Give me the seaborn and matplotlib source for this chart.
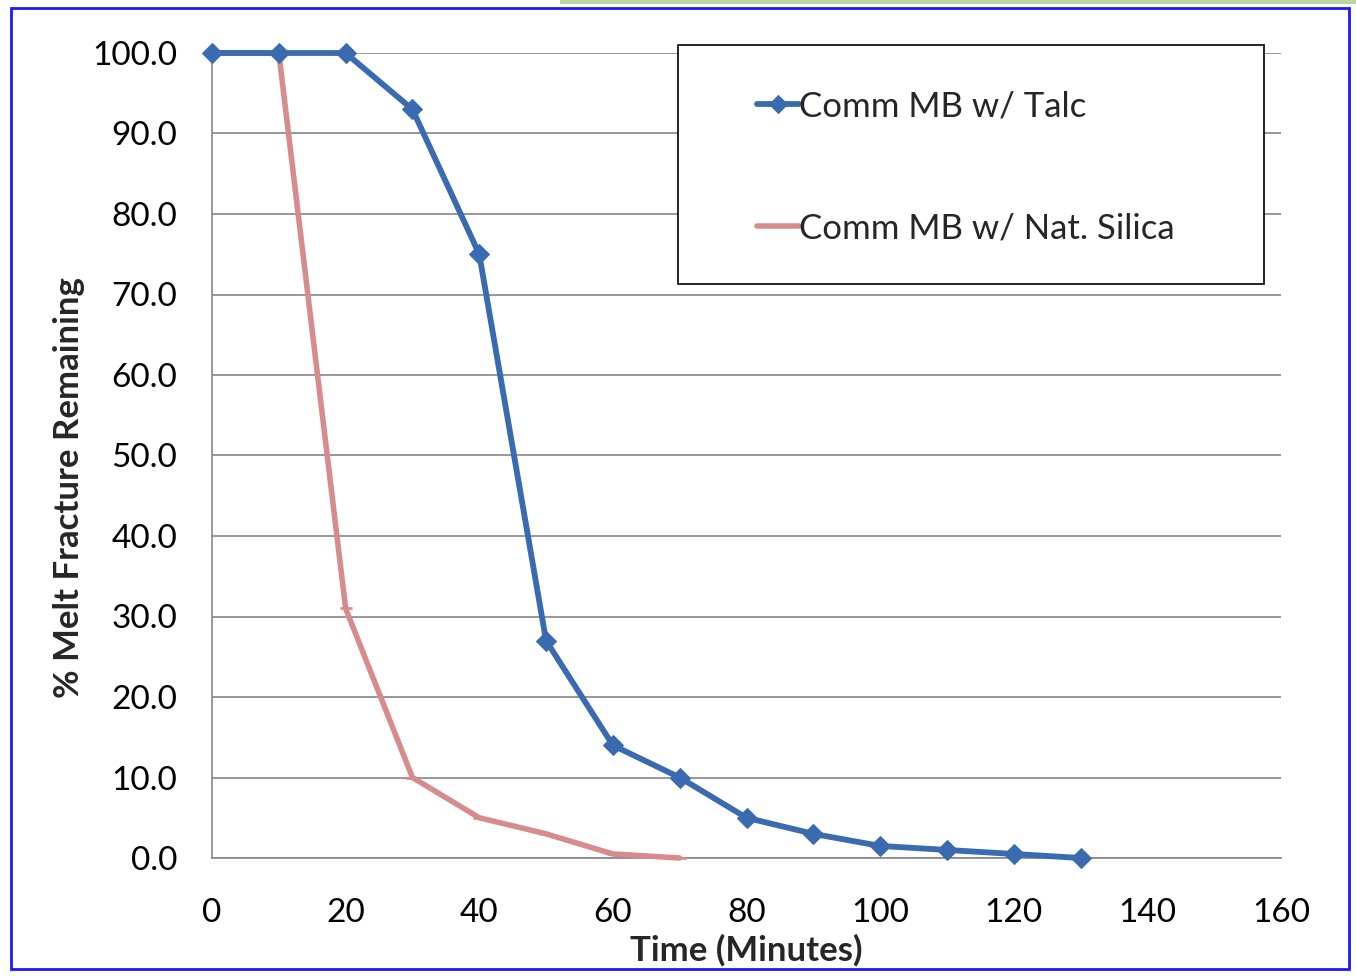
import matplotlib
matplotlib.use("Agg")
import matplotlib.pyplot as plt
import seaborn as sns
import pandas as pd
from matplotlib.patches import Rectangle

talc_time = [0, 10, 20, 30, 40, 50, 60, 70, 80, 90, 100, 110, 120, 130]
talc_vals = [100, 100, 100, 93, 75, 27, 14, 10, 5, 3, 1.5, 1, 0.5, 0]
silica_time = [0, 10, 20, 30, 40, 50, 60, 70]
silica_vals = [100, 100, 31, 10, 5, 3, 0.5, 0]
series_names = ["Comm MB w/ Talc", "Comm MB w/ Nat. Silica"]
x_ticks = [0, 20, 40, 60, 80, 100, 120, 140, 160]
y_ticks = [0, 10, 20, 30, 40, 50, 60, 70, 80, 90, 100]

sns.set_theme(style="white")
plt.rcParams["font.family"] = ["Lato", "DejaVu Sans"]

W, H = 1356, 976
fig = plt.figure(figsize=(W/100, H/100), dpi=100)
ax = fig.add_axes([212/W, 1-858/H, (1281-212)/W, (858-53)/H])

df_t = pd.DataFrame({"t": talc_time, "v": talc_vals})
df_s = pd.DataFrame({"t": silica_time, "v": silica_vals})

blue = "#3A6BB0"
red = "#D68C8C"
sns.lineplot(data=df_t, x="t", y="v", ax=ax, color=blue, lw=4.2, marker="D",
             markersize=10, markeredgecolor=blue, label=series_names[0], clip_on=False, zorder=4)
sns.lineplot(data=df_s, x="t", y="v", ax=ax, color=red, lw=4.0, marker="_",
             markersize=8, markeredgewidth=2, markeredgecolor=red,
             label=series_names[1], clip_on=False, zorder=3)

ax.set_xlim(0, 160)
ax.set_ylim(0, 100)
ax.set_xticks(x_ticks)
ax.set_yticks(y_ticks)
ax.set_yticklabels([f"{v:.1f}" for v in y_ticks])
ax.tick_params(axis="both", labelsize=24, colors="#000000", length=11, width=1.2,
               direction="out", color="#868686")
ax.tick_params(axis="x", pad=18)
ax.tick_params(axis="y", pad=14)
ax.yaxis.grid(True, color="#868686", lw=1.2)
ax.xaxis.grid(False)
for s in ["top", "right"]:
    ax.spines[s].set_visible(False)
for s in ["left", "bottom"]:
    ax.spines[s].set_color("#868686")
    ax.spines[s].set_linewidth(1.2)

ax.set_xlabel("Time (Minutes)", fontsize=25, fontweight="bold", labelpad=4)
ax.set_ylabel("% Melt Fracture Remaining", fontsize=25, fontweight="bold")
ax.yaxis.set_label_coords((85-212)/1069, (858-488)/805)

# legend: frameless entries over a drawn box matching the reference size
box = Rectangle((678/W, 1-284/H), (1264-678)/W, (284-45)/H,
                transform=fig.transFigure, facecolor="white",
                edgecolor="#000000", lw=1.2, zorder=5, clip_on=False)
ax.add_artist(box)
leg = ax.legend(loc="upper left", bbox_to_anchor=((757-212)/1069, 1-(90-53)/805),
                frameon=False, fontsize=25, handlelength=1.2,
                handletextpad=0.0, labelspacing=2.6, borderpad=0, borderaxespad=0,
                markerscale=0.9)
leg.set_zorder(6)

fig.patches.append(Rectangle((11/W, 1-969/H), (1349-11)/W, (969-8)/H,
                             transform=fig.transFigure, fill=False, edgecolor="#1a1aff", lw=2))
fig.patches.append(Rectangle((560/W, 1-4/H), (W-560)/W, 4/H,
                             transform=fig.transFigure, fill=True, facecolor="#b8d8a0", edgecolor="none"))

fig.savefig("out.png", dpi=100)
